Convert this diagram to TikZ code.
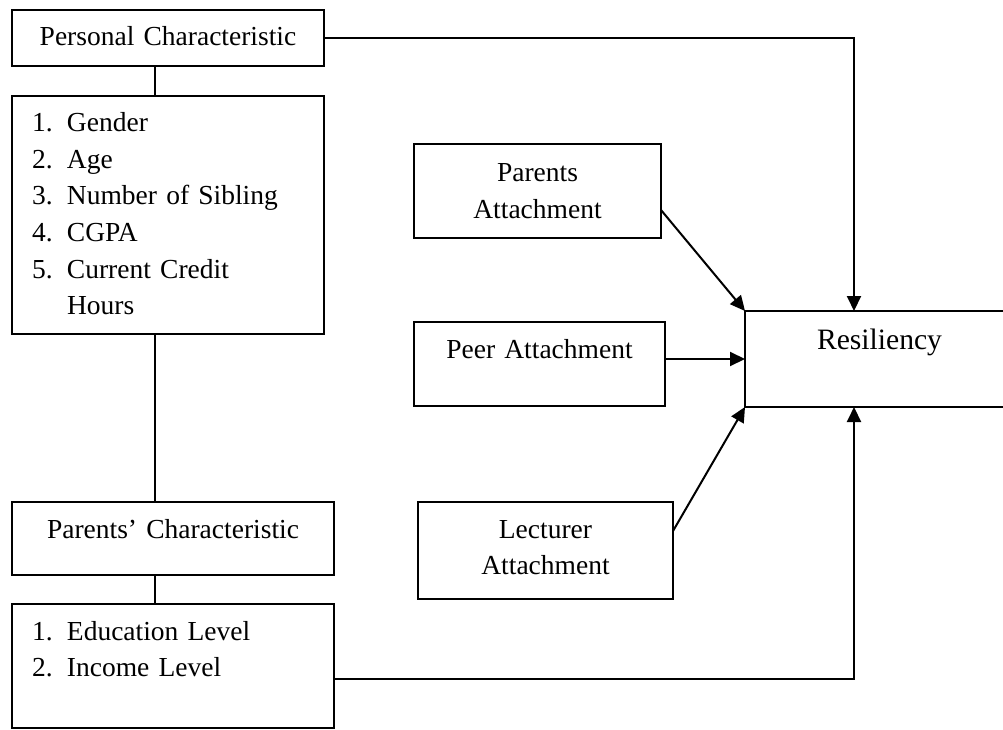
\documentclass[tikz,border=0pt]{standalone}
\usepackage{fontspec}
\setmainfont{Liberation Serif}
\usetikzlibrary{arrows.meta}

\begin{document}
\begin{tikzpicture}[x=1pt, y=-1pt,
  box/.style={draw, line width=2pt, outer sep=0pt, anchor=north west, inner ysep=0pt,
    text height=36pt, font=\fontsize{27.5pt}{36.5pt}\selectfont},
  link/.style={line width=2pt},
  arr/.style={line width=2pt, -{Triangle[length=15pt, width=14pt]}}]
  \useasboundingbox (0,0) rectangle (1003,730);
  \coordinate (spine) at (155,0);
  \coordinate (feed) at (854,0);
  % left column
  \node[box, inner xsep=0pt, text width=312pt, align=center, text depth=20pt] (pers) at (12,10) {Personal Characteristic};
  \node[box, inner xsep=20pt, text width=272pt, align=left, text depth=202pt] (plist) at (12,96)
    {\makebox[35pt][l]{1.}Gender\\\makebox[35pt][l]{2.}Age\\\makebox[35pt][l]{3.}Number of Sibling\\
     \makebox[35pt][l]{4.}CGPA\\\makebox[35pt][l]{5.}Current Credit\\\hspace*{35pt}Hours};
  \node[box, inner xsep=0pt, text width=322pt, align=center, text depth=37pt] (parc) at (12,502) {Parents’ Characteristic};
  \node[box, inner xsep=20pt, text width=282pt, align=left, text depth=88pt] (elist) at (12,604)
    {\makebox[35pt][l]{1.}Education Level\\\makebox[35pt][l]{2.}Income Level};
  % middle column
  \node[box, inner xsep=0pt, text width=247pt, align=center, text height=38pt, text depth=56pt] (patt) at (414,144) {Parents\\Attachment};
  \node[box, inner xsep=0pt, text width=251pt, align=center, text depth=48pt] (peer) at (414,322) {Peer Attachment};
  \node[box, inner xsep=0pt, text width=255pt, align=center, text depth=61pt] (lect) at (418,502) {Lecturer\\Attachment};
  % outcome
  \node[box, inner xsep=0pt, text width=269pt, align=center, text height=38pt, text depth=58pt,
    font=\fontsize{29.6pt}{36pt}\selectfont] (res) at (745,311) {Resiliency};
  % links
  \draw[link] (pers.south -| spine) -- (plist.north -| spine);
  \draw[link] (plist.south -| spine) -- (parc.north -| spine);
  \draw[link] (parc.south -| spine) -- (elist.north -| spine);
  \draw[arr] (pers.east) -| (res.north -| feed);
  \draw[arr] ([yshift=-13pt]elist.east) -| (res.south -| feed);
  \draw[arr] ([yshift=-19pt]patt.east) -- (res.north west);
  \draw[arr] (peer.east |- res.west) -- (res.west);
  \draw[arr] ([yshift=19.5pt]lect.east) -- (res.south west);
\end{tikzpicture}
\end{document}
